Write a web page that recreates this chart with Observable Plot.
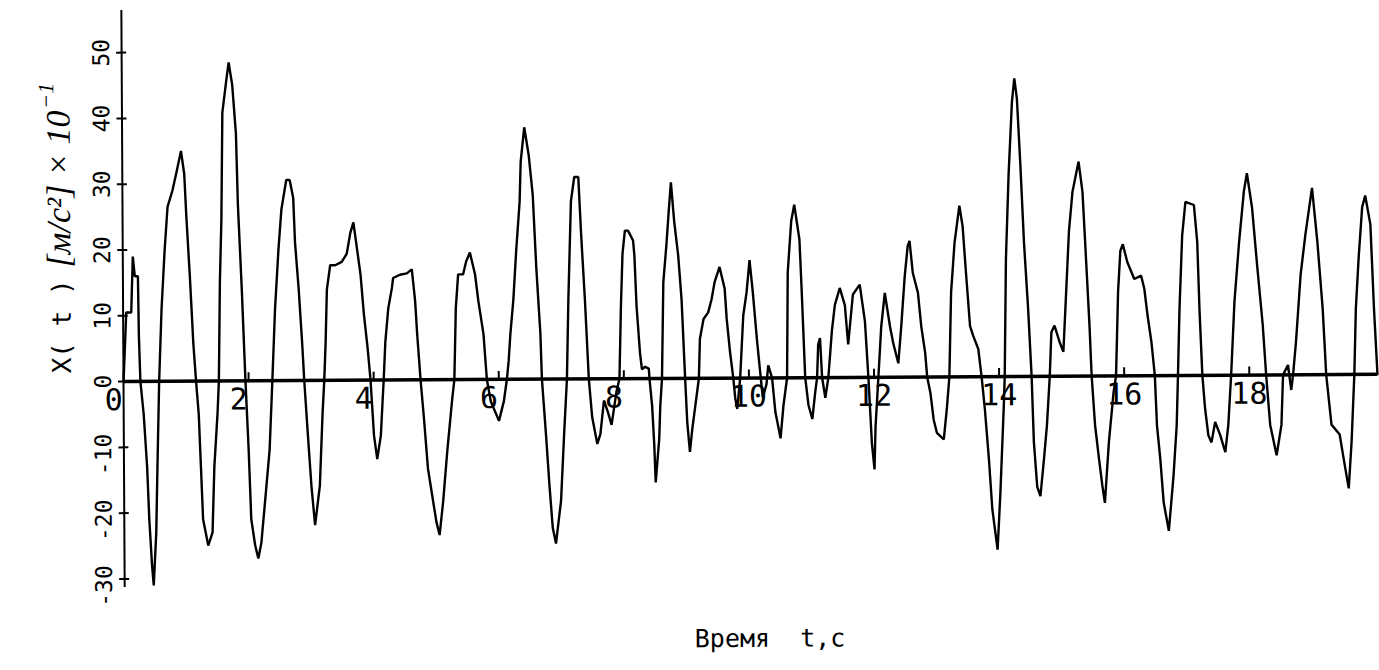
<!DOCTYPE html>
<html>
<head>
<meta charset="utf-8">
<script src="https://cdn.jsdelivr.net/npm/d3@7"></script>
<script src="https://cdn.jsdelivr.net/npm/@observablehq/plot@0.6"></script>
<style>
  html, body { margin: 0; padding: 0; background: #fff; }
  #chart svg { display: block; }
</style>
</head>
<body>
<div id="chart"></div>
<script>
// Acceleration record X(t), sampled trace, time in seconds
const time = [
  0.00, 0.02, 0.05, 0.13, 0.16, 0.19, 0.24, 0.25, 0.27, 0.32, 0.37, 0.40, 0.44, 0.465, 0.51, 0.535, 0.57,
  0.615, 0.67, 0.72, 0.80, 0.86, 0.94, 0.99, 1.02, 1.07, 1.12, 1.16, 1.20, 1.23, 1.26, 1.34, 1.41, 1.445, 1.50, 1.525,
  1.55, 1.58, 1.605, 1.675, 1.71, 1.765, 1.82, 1.845, 1.90, 1.95, 1.995, 2.03, 2.09, 2.14, 2.19, 2.25, 2.33, 2.38,
  2.43, 2.49, 2.54, 2.62, 2.675, 2.73, 2.755, 2.81, 2.86, 2.89, 2.94, 2.995, 3.05, 3.13, 3.18, 3.21,
  3.235, 3.26, 3.315, 3.395, 3.50, 3.58, 3.64, 3.69, 3.745, 3.80, 3.85, 3.905, 3.95,
  4.00, 4.05, 4.11, 4.14, 4.16, 4.19, 4.24, 4.30, 4.32, 4.43, 4.54, 4.62, 4.67, 4.70, 4.75,
  4.80, 4.86, 4.94, 4.99, 5.04, 5.10, 5.17, 5.25, 5.29, 5.32, 5.36, 5.44, 5.49, 5.55, 5.63, 5.68, 5.76, 5.81,
  5.87, 6.00, 6.08, 6.13, 6.16, 6.19, 6.24, 6.29, 6.35, 6.37, 6.43, 6.50, 6.56, 6.61, 6.67, 6.69,
  6.75, 6.80, 6.85, 6.90, 6.985, 7.04, 7.09, 7.12, 7.17, 7.225, 7.29, 7.33, 7.385, 7.44,
  7.49, 7.57, 7.62, 7.68, 7.74, 7.80, 7.88, 7.93, 7.96, 7.99, 8.03, 8.08, 8.16,
  8.18, 8.21, 8.26, 8.29, 8.34, 8.40, 8.41, 8.45, 8.48, 8.50, 8.56, 8.58, 8.61,
  8.64, 8.69, 8.74, 8.77, 8.82, 8.88, 8.93, 8.98, 9.01, 9.05, 9.09, 9.14, 9.20,
  9.22, 9.28, 9.355, 9.41, 9.46, 9.54, 9.62, 9.65, 9.70, 9.75, 9.78, 9.81, 9.86,
  9.915, 9.97, 10.02, 10.07, 10.13, 10.18, 10.22, 10.28, 10.31, 10.37, 10.42, 10.50, 10.55, 10.61,
  10.63, 10.69, 10.74, 10.82, 10.85, 10.90, 10.95, 11.01, 11.06, 11.09, 11.11, 11.14, 11.17, 11.22, 11.27,
  11.33, 11.38, 11.46, 11.54, 11.59, 11.67, 11.78, 11.86, 11.91,
  11.96, 12.00, 12.02, 12.07, 12.12, 12.18, 12.26, 12.31, 12.39, 12.44, 12.50, 12.55, 12.58, 12.63, 12.71, 12.76, 12.82, 12.85,
  12.90, 12.95, 13.00, 13.11, 13.16, 13.205, 13.24, 13.30, 13.38, 13.43, 13.48, 13.54, 13.59, 13.67, 13.72,
  13.77, 13.83, 13.88, 13.96, 14.01, 14.07, 14.09, 14.12, 14.17, 14.23, 14.27, 14.31, 14.36, 14.41, 14.47, 14.52,
  14.55, 14.60, 14.65, 14.71, 14.76, 14.81, 14.84, 14.89, 14.97, 15.03, 15.08, 15.13, 15.19, 15.29, 15.35, 15.40, 15.45, 15.48,
  15.53, 15.59, 15.64, 15.68, 15.75, 15.83, 15.87, 15.91, 15.95, 15.99,
  16.06, 16.17, 16.28, 16.33, 16.38, 16.44, 16.49, 16.52, 16.57, 16.62, 16.70, 16.78, 16.835, 16.86,
  16.89, 16.94, 16.995, 17.13, 17.18, 17.21, 17.25, 17.29, 17.34, 17.39, 17.45, 17.53, 17.61, 17.66, 17.71,
  17.77, 17.85, 17.93, 17.98, 18.06, 18.14, 18.22, 18.27, 18.33, 18.43, 18.51, 18.54, 18.62, 18.67, 18.70,
  18.75, 18.83, 18.91, 19.02, 19.10, 19.18, 19.23, 19.31, 19.44, 19.50, 19.58, 19.63, 19.68,
  19.71, 19.76, 19.82, 19.87, 19.95, 20.00, 20.05
];

// X(t) in units of 0.1 m/s^2
const accel = [
  0, 4, 10.5, 10.5, 19, 16, 16, 7, 0, -5, -13, -21, -28, -31, -23, -13, 0,
  11, 20, 26.5, 29, 31.5, 35, 31.5, 25, 16, 5.7, 0, -5, -13, -21, -25, -23, -13, -5, 0,
  15, 24.6, 40.8, 46, 48.4, 45, 37.6, 26.8, 13.8, 0, -10.5, -21, -25, -27, -24.6, -18.6, -10.5, 0,
  11, 20, 26, 30.5, 30.5, 27.8, 21, 13.8, 5.7, 0, -7.8, -16, -22, -16, -5, 0,
  5.7, 13.8, 17.5, 17.5, 18, 19.2, 22.4, 24, 20, 16, 10, 5, 0,
  -8.4, -12, -8.4, -3.3, 0, 5.8, 10.9, 14, 15.5, 16, 16.2, 16.8, 12, 6.9, 0,
  -5.8, -13.5, -18.5, -21.6, -23.6, -18.5, -10.9, -3.3, 0, 10.9, 16, 16, 18, 19.3, 16, 12, 6.9, 0,
  -3.3, -6.3, -3.3, 0, 2.8, 6.9, 12, 19.5, 27, 33, 38.3, 34, 28, 17, 6.9, 0,
  -8.4, -16, -22.6, -25, -18.5, -8.4, 0, 12, 27, 30.7, 30.7, 22, 12, 0,
  -5.8, -9.9, -8.4, -3.3, -5, -7, -2, 0, 11, 19, 22.5, 22.5, 21,
  18.7, 11, 4, 1.4, 1.8, 1.5, 0, -4.2, -10, -15.8, -9.2, -4.2, 0,
  14.6, 20, 26.3, 29.8, 23.8, 18.7, 12, 0, -6.7, -11.2, -7.7, -4.2, 0,
  6, 9, 10, 12, 14.6, 16.9, 13.6, 9, 4, 0, -3.1, -4.7, 0,
  9.5, 13, 17.9, 13, 6, 0.9, -3, -1, 1.9, 0, -5.2, -9.2, -4.2, 0,
  16, 23.8, 26.3, 21, 13.6, 0, -4.2, -6.3, -2.1, 0, 5, 6, 0, -3.1, 0,
  7, 11, 13.6, 11, 5, 12.6, 14.1, 8.5, 0,
  -10, -14, -7.5, 0, 7.7, 12.8, 7.7, 5.2, 2.1, 7.7, 15.3, 19.9, 20.7, 15.8, 12.8, 7.7, 3.7, 0,
  -2.4, -6.5, -8.5, -9.5, -5, 0, 12.8, 20.4, 26, 22.9, 15.8, 7.7, 6.2, 4.2, 0,
  -5, -12.6, -20.2, -26.3, -17.7, -5, 0, 17.9, 30.6, 41.7, 45.3, 42.2, 32, 20.4, 10.3, 0,
  -10, -16.8, -18.2, -12.6, -7.5, 0, 6.7, 7.7, 5.2, 3.7, 12.8, 22, 28, 32.6, 28, 17.9, 7.7, 0,
  -7.5, -12.6, -16.6, -19.3, -10, -2.4, 0, 12.8, 19, 20,
  17.3, 14.7, 15.2, 13.2, 9.1, 5, 0, -7.6, -12.7, -19.3, -23.6, -15.2, -7.6, 0,
  10, 21.3, 26.4, 25.9, 20.3, 10, 0, -5, -9.1, -10.2, -7.1, -9.1, -11.7, -7.6, 0,
  11.2, 20.3, 27.9, 30.7, 25.4, 16.2, 7.6, 0, -7.6, -12.2, -7.6, 0, 1.5, -2.3, 0,
  5, 15.2, 21.3, 28.4, 20.3, 10, 0, -7.6, -9.1, -12.7, -17.3, -10.2, 0,
  10, 17.8, 25.4, 27.2, 22.8, 10, 0
];

const xTicks = [0, 2, 4, 6, 8, 10, 12, 14, 16, 18];
const yTicks = [50, 40, 30, 20, 10, 0, -10, -20, -30];

const xTitle = "Время  t,с";
const yTitleMain = "X( t )";
const yTitleUnit = "[м/с²] × 10";
const yTitleExp = "−1";

const series = time.map((t, i) => ({t, v: accel[i]}));
const mono = "DejaVu Sans Mono";

const chart = Plot.plot({
  width: 1379,
  height: 670,
  marginLeft: 123,
  marginRight: 2,
  marginTop: 10,
  marginBottom: 83,
  x: {domain: [0, 20.05], axis: null},
  y: {domain: [-31.3, 56.4], axis: null},
  style: {background: "white", color: "black"},
  marks: [
    // vertical axis and zero line
    Plot.ruleX([0], {stroke: "black", strokeWidth: 2}),
    Plot.ruleY([0], {stroke: "black", strokeWidth: 3.5}),
    // cross ticks on the vertical axis
    Plot.ruleY(yTicks, {x1: 0, x2: 0, insetLeft: -5, insetRight: -5, stroke: "black", strokeWidth: 2}),
    // short ticks above the zero line
    Plot.ruleX(xTicks.filter(d => d > 0), {y1: 0, y2: 0, insetTop: -8, insetBottom: 0, stroke: "black", strokeWidth: 2}),
    // the trace
    Plot.line(series, {x: "t", y: "v", stroke: "black", strokeWidth: 2.4, strokeLinejoin: "miter"}),
    // vertical tick labels, written upward
    Plot.text(yTicks.filter(d => d >= 0), {
      x: 0, y: d => d, text: d => String(d), rotate: -90, dx: -20,
      fontFamily: mono, fontSize: 23, fill: "black"
    }),
    Plot.text(yTicks.filter(d => d < 0), {
      x: 0, y: d => d, text: d => String(d), rotate: -90, dx: -20, dy: 7,
      fontFamily: mono, fontSize: 23, fill: "black"
    }),
    // time labels below the zero line
    Plot.text(xTicks.filter(d => d < 10), {
      x: d => d, y: 0, text: d => String(d), dx: -10, dy: 19,
      fontFamily: mono, fontSize: 30, fill: "black"
    }),
    Plot.text(xTicks.filter(d => d >= 10), {
      x: d => d, y: 0, text: d => String(d), dy: 19,
      fontFamily: mono, fontSize: 30, fill: "black"
    }),
    // time axis title
    Plot.text([xTitle], {
      frameAnchor: "bottom", dx: 18, dy: 63,
      fontFamily: mono, fontSize: 25, fill: "black"
    })
  ]
});

// vertical axis title with the unit written in a freer hand
const svg = d3.select(chart);
const yTitle = svg.append("text")
  .attr("transform", "translate(71,373) rotate(-90)")
  .attr("text-anchor", "start")
  .attr("fill", "black");
yTitle.append("tspan")
  .attr("font-family", mono)
  .attr("font-size", 26)
  .text(yTitleMain);
yTitle.append("tspan")
  .attr("dx", 12)
  .attr("font-family", "Liberation Serif")
  .attr("font-style", "italic")
  .attr("font-size", 34)
  .text(yTitleUnit);
yTitle.append("tspan")
  .attr("dx", 2)
  .attr("dy", -16)
  .attr("font-family", "Liberation Serif")
  .attr("font-style", "italic")
  .attr("font-size", 22)
  .text(yTitleExp);

// the sheet sits very slightly askew
chart.style.transformOrigin = "123px 381px";
chart.style.transform = "rotate(-0.33deg)";

document.getElementById("chart").appendChild(chart);
</script>
</body>
</html>
